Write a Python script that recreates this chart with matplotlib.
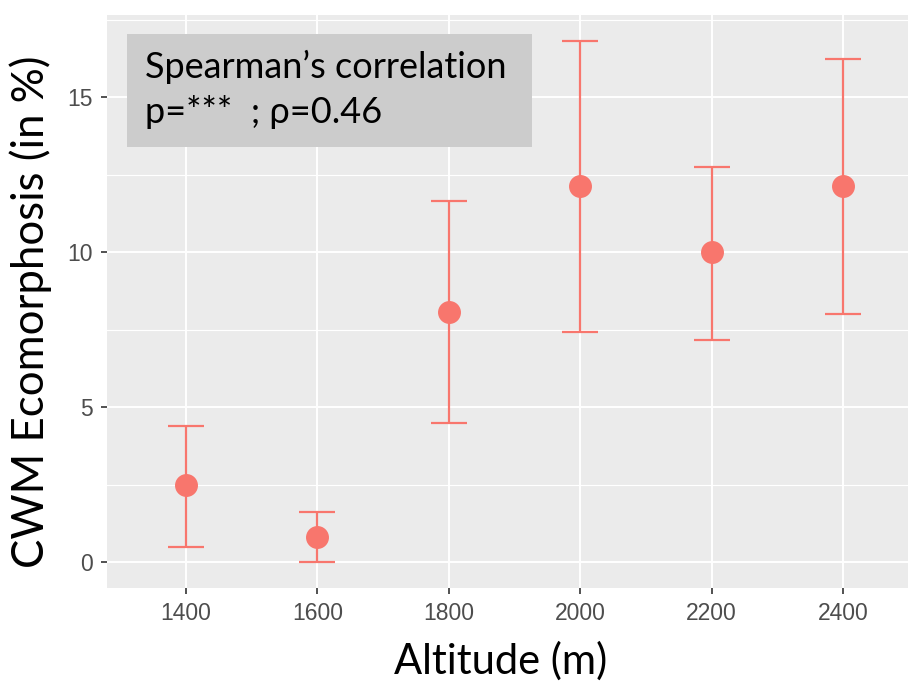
import numpy as np
import matplotlib.pyplot as plt
from matplotlib.patches import Rectangle

altitude = ["1400", "1600", "1800", "2000", "2200", "2400"]
cwm_mean = [2.48, 0.81, 8.06, 12.13, 10.0, 12.13]
cwm_low = [0.48, 0.0, 4.48, 7.42, 7.16, 8.0]
cwm_high = [4.39, 1.61, 11.65, 16.81, 12.74, 16.23]

color = "#F8766D"
label_font = ["Lato", "DejaVu Sans"]

fig = plt.figure(figsize=(9.08, 6.82), dpi=100)
ax = fig.add_axes([0.1178, 0.1378, 0.8976, 0.8402])
ax.set_facecolor("#EBEBEB")

x = np.arange(len(altitude))
mean = np.array(cwm_mean)
yerr = [mean - np.array(cwm_low), np.array(cwm_high) - mean]
ax.errorbar(x, mean, yerr=yerr, fmt="none", ecolor=color, elinewidth=1.6,
            capsize=13.3, capthick=1.6, zorder=3)
ax.plot(x, mean, "o", color=color, markersize=15.5, zorder=4)

ax.set_xlim(-0.6, len(altitude) - 0.4)
ax.set_ylim(-0.84, 17.65)
ax.set_xticks(x)
ax.set_xticklabels(altitude)
ax.set_yticks([0, 5, 10, 15])
ax.set_yticks([2.5, 7.5, 12.5, 17.5], minor=True)
ax.grid(which="major", color="white", linewidth=1.4)
ax.grid(which="minor", axis="y", color="white", linewidth=0.8)
ax.set_axisbelow(True)
for s in ax.spines.values():
    s.set_visible(False)
ax.tick_params(which="major", length=4, width=1.2, color="#333333",
               labelcolor="#4D4D4D", labelsize=16.5, pad=6)
ax.tick_params(which="minor", length=0)
for t in ax.get_xticklabels() + ax.get_yticklabels():
    t.set_family("Liberation Sans")

ax.set_xlabel("Altitude (m)", fontsize=30, family=label_font, va="center")
ax.set_ylabel("CWM Ecomorphosis (in %)", fontsize=31.5, family=label_font, va="center")
ax.xaxis.set_label_coords(0.483, -0.128)
ax.yaxis.set_label_coords(-0.094, 0.483)

ax.add_patch(Rectangle((0.0245, 0.7696), 0.497, 0.1972, transform=ax.transAxes,
                       facecolor="#CCCCCC", edgecolor="none", zorder=5))
ax.text(0.0466, 0.890, "Spearman\u2019s correlation", transform=ax.transAxes,
        fontsize=26, family=label_font, va="baseline", zorder=6)
ax.text(0.0466, 0.8115, "p=***  ; \u03c1=0.46", transform=ax.transAxes,
        fontsize=26, family=label_font, va="baseline", zorder=6)

plt.savefig("out.png", dpi=100)
